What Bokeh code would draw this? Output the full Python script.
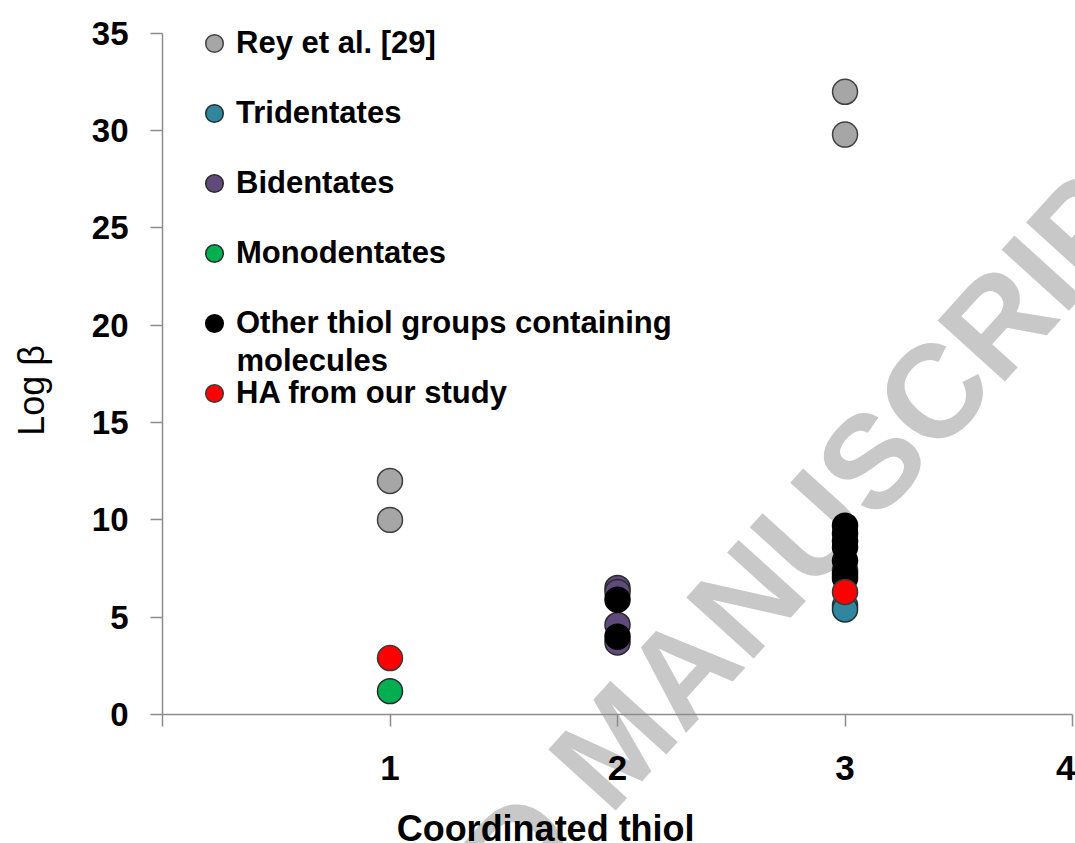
import math
from bokeh.plotting import figure
from bokeh.models import (Range1d, FixedTicker, Legend, LegendItem, Label)
from bokeh.embed import file_html
from bokeh.resources import INLINE

# ---------------- data ----------------
rey_x = [1, 1, 3, 3]
rey_y = [12.0, 10.0, 32.0, 29.8]

tri_x = [3, 3, 3]
tri_y = [7.4, 5.6, 5.4]

bi_x = [2, 2, 2, 2]
bi_y = [6.5, 6.3, 4.6, 3.7]

mono_x = [1]
mono_y = [1.2]

other_x = [2, 2, 3, 3, 3, 3, 3, 3, 3]
other_y = [5.9, 4.0, 9.7, 9.3, 8.9, 8.6, 7.9, 7.2, 7.0]

ha_x = [1, 3]
ha_y = [2.9, 6.3]

series = [
    ("Rey et al. [29]", rey_x, rey_y, "#A6A6A6", "#404040"),
    ("Tridentates", tri_x, tri_y, "#31859C", "#1f2f33"),
    ("Bidentates", bi_x, bi_y, "#604A7B", "#2a2a2a"),
    ("Monodentates", mono_x, mono_y, "#00B050", "#2a2a2a"),
    ("Other thiol groups containing", other_x, other_y, "#000000", "#000000"),
    ("HA from our study", ha_x, ha_y, "#FF0000", "#3a3a3a"),
]
legend_second_line = "molecules"

x_ticks = [0, 1, 2, 3, 4]
y_ticks = [0, 5, 10, 15, 20, 25, 30, 35]

x_title = "Coordinated thiol"
y_title = "Log β"
watermark_a = "ACCEPTED"
watermark_b = "MANUSCRIPT"

# ---------------- figure ----------------
# frame covers the whole canvas; axes are pinned at x=0 / y=0
p = figure(width=1075, height=843, output_backend="svg", toolbar_location=None,
           x_range=Range1d(-0.712, 4.013), y_range=Range1d(-6.63, 36.69),
           min_border=0)
p.outline_line_color = None
p.grid.visible = False
p.background_fill_color = "white"
p.border_fill_color = "white"

# watermark (behind the data)
ang = math.radians(47.8)
wm_style = dict(angle=ang, text_baseline="alphabetic", text_font="Liberation Sans",
                text_font_style="bold", text_font_size="132px",
                text_color="#C8C8C8", level="underlay")
p.add_layout(Label(x=1.709, y=-5.10, text=watermark_a, text_align="right", **wm_style))
p.add_layout(Label(x=1.818, y=-3.70, text=watermark_b, text_align="left", **wm_style))

items = []
for name, xs, ys, fill, line in series:
    r = p.scatter(xs, ys, size=25, marker="circle", fill_color=fill,
                  line_color=line, line_width=1.5)
    items.append(LegendItem(label=name, renderers=[r]))

legend = Legend(items=items, location=(192, 425), glyph_width=44, glyph_height=50,
                spacing=20, padding=0, margin=0, label_standoff=0,
                border_line_color=None, background_fill_alpha=0,
                label_text_font="Liberation Sans", label_text_font_style="bold",
                label_text_font_size="31px", label_text_color="black",
                label_text_baseline="middle")
p.add_layout(legend)

p.add_layout(Label(x=0.325, y=18.19, text=legend_second_line, text_align="left",
                   text_baseline="middle", text_font="Liberation Sans",
                   text_font_style="bold", text_font_size="31px", text_color="black"))

# axes
p.xaxis.fixed_location = 0
p.yaxis.fixed_location = 0
p.xaxis.bounds = (0, 4)
p.yaxis.bounds = (0, 35)
for ax in (p.xaxis[0], p.yaxis[0]):
    ax.axis_line_color = "#8C8C8C"
    ax.axis_line_width = 1.5
    ax.major_tick_line_color = "#8C8C8C"
    ax.major_tick_line_width = 1.5
    ax.major_tick_in = 0
    ax.major_tick_out = 12
    ax.minor_tick_line_color = None
    ax.major_label_text_color = "black"
    ax.major_label_text_font = "Liberation Sans"
    ax.major_label_text_font_style = "bold"

p.xaxis.ticker = FixedTicker(ticks=x_ticks)
p.xaxis.major_label_overrides = {0: ""}
p.xaxis.major_label_text_font_size = "35px"
p.xaxis.major_label_standoff = 30

p.yaxis.ticker = FixedTicker(ticks=y_ticks)
p.yaxis.major_label_text_font_size = "33px"
p.yaxis.major_label_standoff = 22

# axis titles
p.add_layout(Label(x=-0.576, y=16.65, text=y_title, angle=math.pi / 2,
                   text_align="center", text_baseline="middle",
                   text_font="Liberation Sans", text_font_size="36px",
                   text_color="black"))
p.add_layout(Label(x=1.684, y=-5.86, text=x_title, text_align="center",
                   text_baseline="middle", text_font="Liberation Sans",
                   text_font_style="bold", text_font_size="36px",
                   text_color="black"))

open("out.html", "w").write(file_html(p, INLINE))
